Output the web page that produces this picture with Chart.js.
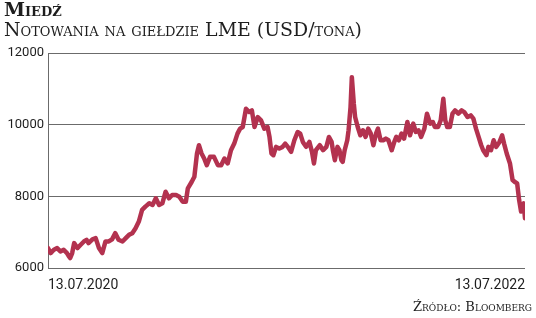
<!DOCTYPE html>
<html>
<head>
<meta charset="utf-8">
<script src="https://cdn.jsdelivr.net/npm/chart.js@4/dist/chart.umd.min.js"></script>
<style>
  html, body { margin: 0; padding: 0; background: #fff; }
  #wrap { position: relative; width: 536px; height: 318px; overflow: hidden; }
  #chart { position: absolute; left: 0; top: 0; }
  .txt { position: absolute; font-family: "DejaVu Serif", serif; color: #1e1e1e; font-variant: small-caps; white-space: nowrap; }
  #title { left: 4px; top: -2px; font-size: 19px; font-weight: bold; }
  #subtitle { left: 4px; top: 18px; font-size: 18.9px; }
  #source { right: 4px; top: 299px; font-size: 13px; }
</style>
</head>
<body>
<div id="wrap">
  <canvas id="chart" width="536" height="318"></canvas>
  <div class="txt" id="title">Miedź</div>
  <div class="txt" id="subtitle">Notowania na giełdzie LME (USD/tona)</div>
  <div class="txt" id="source">Źródło: Bloomberg</div>
</div>
<script>
// Dane: dni od 13.07.2020 i kurs miedzi (USD/tona)
const days = [
  0, 4, 9, 14, 19, 24, 29, 32, 34, 37, 40, 45, 50, 55, 59, 62, 68, 73, 78, 83,
  88, 93, 98, 103, 108, 114, 119, 124, 129, 134, 139, 144, 149, 155, 160, 165, 170, 175, 180, 185,
  190, 196, 201, 206, 211, 214, 220, 224, 228, 231, 235, 239, 243, 248, 254, 260, 265, 270, 275, 280,
  285, 290, 294, 298, 303, 308, 312, 316, 321, 326, 331, 336, 339, 342, 345, 349, 354, 359, 363, 367,
  372, 377, 382, 386, 390, 395, 400, 404, 407, 410, 416, 421, 426, 430, 434, 436, 439, 443, 446, 449,
  451, 454, 458, 460, 463, 465, 468, 470, 474, 478, 482, 486, 490, 494, 498, 502, 505, 509, 513, 517,
  521, 526, 530, 533, 537, 541, 545, 550, 554, 559, 563, 567, 571, 576, 580, 585, 589, 592, 597, 601,
  605, 608, 611, 615, 619, 623, 628, 633, 637, 642, 647, 651, 655, 659, 663, 666, 671, 674, 678, 682,
  686, 691, 695, 698, 702, 707, 711, 714, 718, 721, 724, 728, 730
]
const prices = [
  6555, 6417, 6510, 6555, 6463, 6510, 6417, 6324, 6278, 6417, 6695, 6555, 6648, 6740, 6787, 6695, 6800, 6833, 6555, 6417,
  6740, 6740, 6800, 6972, 6787, 6740, 6833, 6926, 6972, 7111, 7296, 7620, 7713, 7806, 7759, 7944, 7759, 7806, 8130, 7944,
  8037, 8037, 7991, 7852, 7852, 8222, 8407, 8546, 9195, 9426, 9195, 9056, 8870, 9102, 9102, 8870, 8870, 9056, 8917, 9287,
  9472, 9750, 9889, 9935, 10445, 10352, 10398, 9935, 10213, 10120, 9889, 9935, 9658, 9195, 9148, 9380, 9333, 9380, 9472, 9380,
  9241, 9565, 9796, 9750, 9519, 9380, 9519, 9241, 8917, 9287, 9426, 9287, 9380, 9658, 9519, 9287, 9009, 9380, 9287, 9009,
  8963, 9287, 9565, 9843, 10491, 11324, 10583, 10213, 9935, 9704, 9843, 9658, 9889, 9750, 9426, 9750, 9889, 9565, 9565, 9611,
  9565, 9287, 9519, 9658, 9565, 9750, 9611, 10074, 9704, 10028, 9796, 9843, 9658, 9889, 10306, 10028, 10074, 9935, 9935, 10120,
  10722, 10120, 9935, 9935, 10306, 10398, 10306, 10398, 10352, 10213, 10259, 10167, 9889, 9658, 9426, 9287, 9148, 9380, 9287, 9565,
  9380, 9519, 9704, 9472, 9195, 8917, 8454, 8407, 8361, 7898, 7574, 7806, 7389
]
const yTicks = [6000, 8000, 10000, 12000]
const xTickDays = [0, 730]
const xTickLabels = ["13.07.2020", "13.07.2022"]

const ctx = document.getElementById("chart").getContext("2d")

new Chart(ctx, {
  type: "line",
  data: {
    datasets: [
      {
        data: days.map((d, i) => ({ x: d, y: prices[i] })),
        borderColor: "#b3324f",
        borderWidth: 4.5,
        pointRadius: 0,
        tension: 0,
        borderJoinStyle: "round",
        borderCapStyle: "round",
      },
    ],
  },
  options: {
    responsive: false,
    animation: false,
    layout: { padding: { left: 0, right: 11, top: 53, bottom: 22 } },
    plugins: { legend: { display: false }, tooltip: { enabled: false } },
    scales: {
      x: {
        type: "linear",
        min: 0,
        max: 730,
        afterBuildTicks: (scale) => {
          scale.ticks = xTickDays.map((v) => ({ value: v }))
        },
        afterFit: (scale) => {
          scale.height = 28
        },
        grid: { display: false },
        border: { display: false },
        ticks: {
          align: "inner",
          maxRotation: 0,
          padding: 1,
          color: "#1e1e1e",
          font: { family: "Roboto", size: 14 },
          callback: (value) => xTickLabels[xTickDays.indexOf(value)],
        },
      },
      y: {
        min: 6000,
        max: 12000,
        afterBuildTicks: (scale) => {
          scale.ticks = yTicks.map((v) => ({ value: v }))
        },
        afterFit: (scale) => {
          scale.width = 48
        },
        grid: { color: "#6b6b6b", lineWidth: 1, drawTicks: false },
        border: { display: true, color: "#6b6b6b", width: 1 },
        ticks: {
          padding: 4,
          color: "#1e1e1e",
          font: { family: "Roboto", size: 13 },
          callback: (value) => String(value),
        },
      },
    },
  },
})
</script>
</body>
</html>
